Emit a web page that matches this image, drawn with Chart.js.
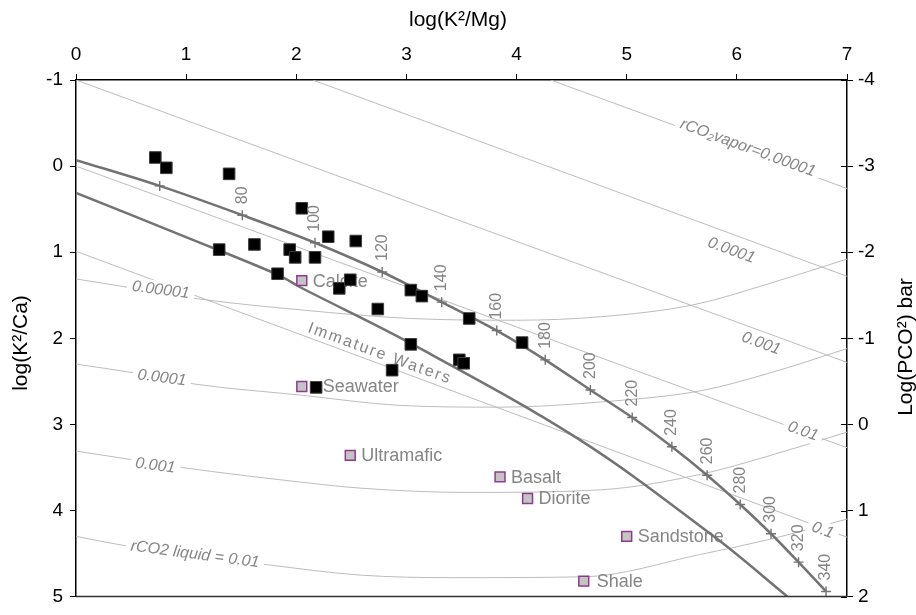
<!DOCTYPE html>
<html>
<head>
<meta charset="utf-8">
<title>log(K²/Mg) vs log(K²/Ca)</title>
<script src="https://cdn.jsdelivr.net/npm/chart.js@4.4.1/dist/chart.umd.min.js"></script>
<style>
  html, body { margin: 0; padding: 0; background: #fff; }
  #chart { display: block; }
</style>
</head>
<body>
<canvas id="chart" width="916" height="615"></canvas>
<script>
// ---- values ----

// measured waters (black squares)
const wellX = [0.72, 0.82, 1.39, 2.05, 2.29, 2.54, 1.30, 1.62, 1.94, 1.99, 2.17, 1.83,
               2.39, 2.49, 2.74, 3.04, 3.14, 3.57, 4.05, 3.04, 3.48, 3.52, 2.87, 2.18];
const wellY = [-0.10, 0.02, 0.09, 0.49, 0.82, 0.87, 0.97, 0.91, 0.97, 1.06, 1.06, 1.25,
               1.42, 1.32, 1.66, 1.44, 1.51, 1.77, 2.05, 2.07, 2.25, 2.29, 2.37, 2.57];

// rock / reference compositions
const rockNames = ['Calcite', 'Seawater', 'Ultramafic', 'Basalt', 'Diorite', 'Sandstone', 'Shale'];
const rockX = [2.05, 2.05, 2.49, 3.85, 4.10, 5.00, 4.61];
const rockY = [1.33, 2.56, 3.36, 3.61, 3.86, 4.30, 4.82];

// temperature curve (first point is where it leaves the axis, then one point per mark)
const tempX = [0, 0.76, 1.51, 2.17, 2.78, 3.32, 3.82, 4.26, 4.67, 5.05, 5.41, 5.73, 6.03, 6.31, 6.56, 6.81];
const tempY = [-0.07, 0.23, 0.57, 0.89, 1.23, 1.58, 1.91, 2.25, 2.60, 2.92, 3.26, 3.59, 3.93, 4.27, 4.60, 4.94];
const tempLabels = ['', '', '80', '100', '120', '140', '160', '180', '200', '220', '240', '260', '280', '300', '320', '340'];

// second (lower) equilibrium curve
const lowerX = [0, 1.01, 1.83, 2.04, 3.04, 4.55, 5.79, 6.46];
const lowerY = [0.31, 0.83, 1.26, 1.41, 2.06, 3.16, 4.30, 5.00];

// rCO2 vapor isopleths (straight lines)
const vaporNames = ['rCO₂vapor=0.00001', '0.0001', '0.001', '0.01', '0.1'];
const vaporX = [[4.31, 7], [2.15, 7], [0, 7], [0, 7], [0, 7]];
const vaporY = [[-1, 0.26], [-1, 1.28], [-1, 2.28], [0, 3.27], [0.99, 4.31]];
const vaporLabelX = [6.10, 5.95, 6.22, 6.60, 6.78];
const vaporLabelY = [-0.21, 0.98, 2.06, 3.08, 4.23];

// rCO2 liquid isopleths (curves)
const liquidNames = ['0.00001', '0.0001', '0.001', 'rCO2 liquid = 0.01'];
const liquidX = [
  [0, 0.48, 1.10, 2.04, 3.04, 4.00, 4.76, 5.61, 6.28, 7.00],
  [0, 0.52, 1.07, 2.04, 2.95, 3.85, 4.76, 5.67, 6.28, 7.00],
  [0, 0.51, 0.96, 2.04, 2.58, 3.55, 4.76, 5.67, 6.28, 7.00],
  [0, 0.45, 1.74, 2.58, 3.40, 4.61, 5.67, 6.28, 7.00]
];
const liquidY = [
  [1.31, 1.41, 1.54, 1.67, 1.77, 1.79, 1.75, 1.61, 1.37, 1.08],
  [2.30, 2.40, 2.53, 2.66, 2.78, 2.80, 2.74, 2.61, 2.41, 2.12],
  [3.31, 3.41, 3.50, 3.67, 3.74, 3.79, 3.76, 3.58, 3.37, 3.09],
  [4.30, 4.41, 4.63, 4.75, 4.78, 4.77, 4.51, 4.34, 4.10]
];
const liquidLabelX = [0.77, 0.78, 0.72, 1.08];
const liquidLabelY = [1.44, 2.46, 3.48, 4.51];

// ---- styling ----
const FONT = '"Liberation Sans", Arial, Helvetica, sans-serif';
const THIN = '#bcbcbc';
const THICK = '#737373';
const LABEL = '#858585';
const vaporGap = [true, false, false, true, true];
const rockLabelDx = [11, 21, 11, 11, 11, 11, 13];

const pts = (xs, ys) => xs.map((x, i) => ({ x, y: ys[i] }));

const datasets = [];

vaporNames.forEach((name, i) => {
  datasets.push({
    label: 'vapor ' + name,
    data: pts(vaporX[i], vaporY[i]),
    showLine: true, borderColor: THIN, borderWidth: 1, pointRadius: 0,
    order: 10,
    labelLayer: i === 0
  });
});
liquidNames.forEach((name, i) => {
  datasets.push({
    label: 'liquid ' + name,
    data: pts(liquidX[i], liquidY[i]),
    showLine: true, borderColor: THIN, borderWidth: 1, pointRadius: 0,
    cubicInterpolationMode: 'monotone',
    order: 10
  });
});
datasets.push({
  label: 'temperature curve',
  data: pts(tempX, tempY),
  showLine: true, borderColor: THICK, borderWidth: 2.5,
  cubicInterpolationMode: 'monotone',
  pointStyle: 'cross',
  pointRadius: ctx => ctx.dataIndex === 0 ? 0 : 5,
  pointBorderColor: THICK, pointBorderWidth: 1.4,
  order: 5
});
datasets.push({
  label: 'lower curve',
  data: pts(lowerX, lowerY),
  showLine: true, borderColor: THICK, borderWidth: 2.5, pointRadius: 0,
  tension: 0.35,
  order: 5
});
datasets.push({
  label: 'rocks',
  data: pts(rockX, rockY),
  pointStyle: 'rect', pointRadius: 7,
  backgroundColor: '#c4c4c4', borderColor: '#8d3b8d', borderWidth: 1.5,
  order: 3
});
datasets.push({
  label: 'waters',
  data: pts(wellX, wellY),
  pointStyle: 'rect', pointRadius: 8.2,
  backgroundColor: '#000', borderColor: '#3c3c3c', borderWidth: 1,
  order: 1
});

function rotatedText(ctx, text, x, y, angle, font, knockout, spacing) {
  ctx.save();
  ctx.translate(x, y);
  ctx.rotate(angle);
  ctx.font = font;
  ctx.textAlign = 'center';
  ctx.textBaseline = 'middle';
  if (spacing) ctx.letterSpacing = spacing;
  if (knockout) {
    const w = ctx.measureText(text).width;
    ctx.fillStyle = '#fff';
    ctx.fillRect(-w / 2 - 5, -9, w + 10, 18);
  }
  ctx.fillStyle = LABEL;
  ctx.fillText(text, 0, 0);
  ctx.restore();
}

// labels that sit between the thin isopleths and the other marks
function drawLabelLayer(chart) {
  const { ctx, scales: { x, y } } = chart;
  const px = v => x.getPixelForValue(v);
  const py = v => y.getPixelForValue(v);

  const vapAngle = Math.atan2(py(vaporY[3][1]) - py(vaporY[3][0]), px(vaporX[3][1]) - px(vaporX[3][0]));
  vaporNames.forEach((name, i) => {
    rotatedText(ctx, name, px(vaporLabelX[i]), py(vaporLabelY[i]), vapAngle,
      'italic 16px ' + FONT, vaporGap[i]);
  });
  liquidNames.forEach((name, i) => {
    rotatedText(ctx, name, px(liquidLabelX[i]), py(liquidLabelY[i]), 7.5 * Math.PI / 180,
      'italic 16px ' + FONT, true);
  });
  rotatedText(ctx, 'Immature Waters', px(2.76), py(2.18), vapAngle, '16px ' + FONT, false, '2px');

  ctx.save();
  ctx.font = '18px ' + FONT;
  ctx.fillStyle = LABEL;
  ctx.textAlign = 'left';
  ctx.textBaseline = 'middle';
  rockNames.forEach((name, i) => {
    ctx.fillText(name, px(rockX[i]) + rockLabelDx[i], py(rockY[i]) + 1);
  });
  ctx.restore();
}

const overlay = {
  id: 'overlay',
  afterDatasetDraw(chart, args) {
    if (chart.data.datasets[args.index].labelLayer) drawLabelLayer(chart);
  },
  afterDatasetsDraw(chart) {
    const { ctx, scales: { x, y } } = chart;
    ctx.save();
    ctx.font = '16px ' + FONT;
    ctx.fillStyle = LABEL;
    ctx.textAlign = 'left';
    ctx.textBaseline = 'middle';
    tempLabels.forEach((t, i) => {
      if (!t) return;
      ctx.save();
      ctx.translate(x.getPixelForValue(tempX[i]), y.getPixelForValue(tempY[i]) - 11);
      ctx.rotate(-Math.PI / 2);
      ctx.fillText(t, 0, 0);
      ctx.restore();
    });
    ctx.restore();
  },
  afterDraw(chart) {
    const { ctx, chartArea: a, scales: { y2 } } = chart;
    ctx.save();
    // bottom frame line
    ctx.strokeStyle = '#333';
    ctx.lineWidth = 1.5;
    ctx.beginPath();
    ctx.moveTo(a.left, a.bottom);
    ctx.lineTo(a.right, a.bottom);
    ctx.stroke();
    // right axis ticks cross the axis
    ctx.strokeStyle = '#000';
    ctx.lineWidth = 1;
    y2.ticks.forEach(t => {
      const yy = Math.round(y2.getPixelForValue(t.value)) + 0.5;
      ctx.beginPath();
      ctx.moveTo(a.right - 6, yy);
      ctx.lineTo(a.right, yy);
      ctx.stroke();
    });
    // axis titles
    ctx.fillStyle = '#000';
    ctx.textAlign = 'center';
    ctx.textBaseline = 'middle';
    ctx.font = '21px ' + FONT;
    ctx.fillText('log(K²/Mg)', 458, 20);
    ctx.save();
    ctx.translate(21, 343);
    ctx.rotate(-Math.PI / 2);
    ctx.fillText('log(K²/Ca)', 0, 0);
    ctx.restore();
    ctx.save();
    ctx.translate(906, 347);
    ctx.rotate(-Math.PI / 2);
    ctx.fillText('Log(PCO²) bar', 0, 0);
    ctx.restore();
    ctx.restore();
  }
};

const tickFont = { family: FONT, size: 19 };
const axisGrid = { drawOnChartArea: false, tickLength: 6, tickColor: '#000', lineWidth: 1 };
const axisBorder = { color: '#000', width: 1.5 };

new Chart(document.getElementById('chart'), {
  type: 'scatter',
  data: { datasets },
  options: {
    responsive: false,
    animation: false,
    devicePixelRatio: 1,
    events: [],
    layout: { padding: { left: 0, right: 0, top: 0, bottom: 11 } },
    plugins: { legend: { display: false }, tooltip: { enabled: false } },
    scales: {
      x: {
        type: 'linear', position: 'top', min: 0, max: 7,
        ticks: { stepSize: 1, padding: 8, color: '#000', font: tickFont },
        grid: axisGrid, border: axisBorder,
        afterFit(s) { s.height = 80; }
      },
      y: {
        type: 'linear', position: 'left', reverse: true, min: -1, max: 5,
        ticks: { stepSize: 1, padding: 7, color: '#000', font: tickFont },
        grid: axisGrid, border: axisBorder,
        afterFit(s) { s.width = 76; }
      },
      y2: {
        type: 'linear', position: 'right', reverse: true, min: -4, max: 2,
        ticks: { stepSize: 1, padding: 5, color: '#000', font: tickFont },
        grid: axisGrid, border: axisBorder,
        afterFit(s) { s.width = 69; }
      }
    }
  },
  plugins: [overlay]
});
</script>
</body>
</html>
